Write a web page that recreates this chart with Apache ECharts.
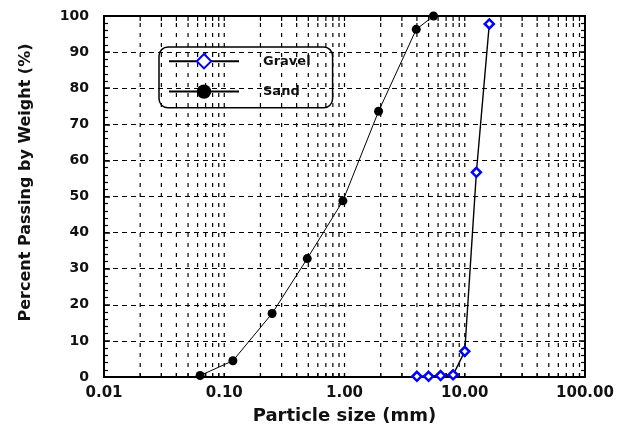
<!DOCTYPE html>
<html>
<head>
<meta charset="utf-8">
<title>Particle size distribution</title>
<script src="https://cdn.jsdelivr.net/npm/echarts@6/dist/echarts.min.js"></script>
<style>
  html, body { margin: 0; padding: 0; background: #fff; }
  #main { width: 626px; height: 430px; }
</style>
</head>
<body>
<div id="main"></div>
<script>
// particle size (mm) and percent passing
var sandSize = [0.063, 0.118, 0.25, 0.49, 0.97, 1.92, 3.95, 5.5];
var sandPass = [0.4, 4.5, 17.6, 32.8, 48.8, 73.6, 96.3, 100];
var gravelSize = [4.0, 5.0, 6.3, 8.0, 10.0, 12.5, 16.0];
var gravelPass = [0.2, 0.2, 0.4, 0.6, 7.1, 56.7, 97.8];

var xTickValues = [0.01, 0.1, 1, 10, 100];
var xTickLabels = ['0.01', '0.10', '1.00', '10.00', '100.00'];
var decades = [0.01, 0.1, 1, 10];

// vertical grid at 2..10 of each decade
var vGrid = [];
decades.forEach(function (d) {
    for (var k = 2; k <= 10; k++) vGrid.push([k * d, 0]);
});

function pair(xs, ys) {
    return xs.map(function (x, i) { return [x, ys[i]]; });
}

var dash = [5, 4];
var lbl = { fontFamily: 'DejaVu Sans', fontWeight: 'bold', color: '#111' };

var chart = echarts.init(document.getElementById('main'));

var option = {
    animation: false,
    backgroundColor: '#fff',
    grid: { left: 104, right: 41, top: 16, bottom: 51, show: true, borderColor: '#000', borderWidth: 2 },
    legend: {
        left: 159, top: 47,
        orient: 'vertical',
        data: ['Gravel', 'Sand'],
        itemWidth: 70, itemHeight: 18, itemGap: 15,
        padding: [6, 22, 9, 9],
        borderColor: '#000', borderWidth: 1.5, borderRadius: 9,
        textStyle: { fontFamily: 'DejaVu Sans', fontWeight: 'bold', fontSize: 13, color: '#111', padding: [0, 0, 0, 19] }
    },
    xAxis: [{
        type: 'log', logBase: 10, min: 0.01, max: 100,
        name: 'Particle size (mm)', nameLocation: 'middle', nameGap: 30,
        nameTextStyle: { fontFamily: 'DejaVu Sans', fontWeight: 'bold', fontSize: 18, color: '#111' },
        axisLine: { lineStyle: { color: '#000', width: 2 } },
        axisTick: { show: false },
        splitLine: { show: false },
        axisLabel: Object.assign({ fontSize: 15, margin: 9, formatter: function (v) {
            for (var i = 0; i < xTickValues.length; i++) {
                if (Math.abs(Math.log10(v) - Math.log10(xTickValues[i])) < 1e-6) return xTickLabels[i];
            }
            return '';
        } }, lbl)
    }, {
        type: 'log', logBase: 10, min: 0.01, max: 100, position: 'top',
        axisLine: { lineStyle: { color: '#000', width: 2 } },
        axisTick: { show: false }, axisLabel: { show: false }, splitLine: { show: false }
    }],
    yAxis: [{
        type: 'value', min: 0, max: 100, interval: 10,
        name: 'Percent Passing by Weight (%)', nameLocation: 'middle', nameGap: 70, nameRotate: 90,
        nameTextStyle: { fontFamily: 'DejaVu Sans', fontWeight: 'bold', fontSize: 16, color: '#111', padding: [0, 0, 0, 28] },
        axisLine: { lineStyle: { color: '#000', width: 2 } },
        axisTick: { inside: true, length: 6, lineStyle: { color: '#000', width: 1.5 } },
        minorTick: { show: true, splitNumber: 5, length: 4, lineStyle: { color: '#000', width: 1.2 } },
        splitLine: { show: true, lineStyle: { color: '#000', type: dash, width: 1.2 } },
        axisLabel: Object.assign({ fontSize: 14, margin: 15 }, lbl)
    }, {
        type: 'value', min: 0, max: 100, interval: 10, position: 'right',
        axisLine: { show: true, lineStyle: { color: '#000', width: 2 } },
        axisTick: { inside: true, length: 6, lineStyle: { color: '#000', width: 1.5 } },
        minorTick: { show: true, splitNumber: 5, length: 4, lineStyle: { color: '#000', width: 1.2 } },
        axisLabel: { show: false }, splitLine: { show: false }
    }],
    series: [{
        type: 'custom',
        silent: true,
        z: 1,
        data: vGrid,
        renderItem: function (params, api) {
            var x = api.value(0);
            var p0 = api.coord([x, 0]);
            var p1 = api.coord([x, 100]);
            var kids = [{
                type: 'line', shape: { x1: p0[0], y1: p0[1], x2: p1[0], y2: p1[1] },
                style: { stroke: '#000', lineWidth: 1.2, lineDash: [4, 6] }
            }, {
                type: 'line', shape: { x1: p1[0], y1: p1[1], x2: p1[0], y2: p1[1] + 5 },
                style: { stroke: '#000', lineWidth: 1.2 }
            }, {
                type: 'line', shape: { x1: p0[0], y1: p0[1], x2: p0[0], y2: p0[1] - 4 },
                style: { stroke: '#000', lineWidth: 1.2 }
            }];
            return { type: 'group', children: kids };
        }
    }, {
        name: 'Gravel',
        type: 'line',
        z: 3,
        data: pair(gravelSize, gravelPass),
        symbol: 'diamond', symbolSize: 9,
        lineStyle: { color: '#000', width: 1.4 },
        itemStyle: { color: '#fff', borderColor: '#0000ff', borderWidth: 2.5 }
    }, {
        name: 'Sand',
        type: 'line',
        z: 3,
        data: pair(sandSize, sandPass),
        symbol: 'circle', symbolSize: 9,
        lineStyle: { color: '#000', width: 1 },
        itemStyle: { color: '#000' }
    }]
};

chart.setOption(option);
</script>
</body>
</html>
